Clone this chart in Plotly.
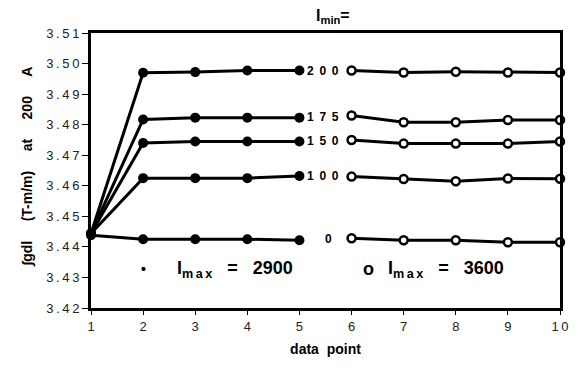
import plotly.graph_objects as go

x_2900 = [1, 2, 3, 4, 5]
x_3600 = [6, 7, 8, 9, 10]
imin_labels = ["2 0 0", "1 7 5", "1 5 0", "1 0 0", "0"]
y_2900 = {
    "200": [3.4444, 3.4970, 3.4972, 3.4977, 3.4977],
    "175": [3.4444, 3.4817, 3.4823, 3.4823, 3.4823],
    "150": [3.4444, 3.4740, 3.4745, 3.4745, 3.4745],
    "100": [3.4444, 3.4625, 3.4625, 3.4625, 3.4632],
    "0":   [3.4438, 3.4425, 3.4425, 3.4425, 3.4422],
}
y_3600 = {
    "200": [3.4977, 3.4971, 3.4973, 3.4971, 3.4971],
    "175": [3.4830, 3.4808, 3.4808, 3.4815, 3.4815],
    "150": [3.4750, 3.4738, 3.4738, 3.4738, 3.4745],
    "100": [3.4630, 3.4622, 3.4615, 3.4624, 3.4623],
    "0":   [3.4428, 3.4422, 3.4422, 3.4415, 3.4415],
}
y_ticks = [3.42, 3.43, 3.44, 3.45, 3.46, 3.47, 3.48, 3.49, 3.50, 3.51]
x_ticks = list(range(1, 11))

FONT = "Liberation Sans, Arial, sans-serif"
th = "\u2009"
nb = "\u00a0"

fig = go.Figure()
for k in y_2900:
    fig.add_trace(go.Scatter(
        x=x_2900, y=y_2900[k], mode="lines+markers", cliponaxis=False,
        line=dict(color="black", width=3),
        marker=dict(symbol="circle", size=10, color="black"),
        showlegend=False))
for k in y_3600:
    fig.add_trace(go.Scatter(
        x=x_3600, y=y_3600[k], mode="lines+markers", cliponaxis=False,
        line=dict(color="black", width=3),
        marker=dict(symbol="circle", size=8, color="white",
                    line=dict(color="black", width=2.5)),
        showlegend=False))

annotations = []
for lab, k in zip(imin_labels, y_2900):
    yv = (y_2900[k][-1] + y_3600[k][0]) / 2
    annotations.append(dict(x=5.45 if lab != "0" else 5.55, y=yv, xref="x", yref="y",
                            text="<b>" + lab.replace(" ", nb + th) + "</b>",
                            showarrow=False, font=dict(family=FONT, size=12, color="black")))

sub = "<sub>m" + th + "a" + th + "x</sub>"
annotations += [
    dict(x=(337 - 91) / (567 - 91), y=1.1, xref="paper", yref="paper", showarrow=False,
         text="<b>I<sub>min</sub>=</b>", font=dict(family=FONT, size=16, color="black")),
    dict(x=2.0, y=3.4327, xref="x", yref="y", showarrow=False,
         text="<b>•</b>", font=dict(family=FONT, size=14, color="black")),
    dict(x=2.62, y=3.4327, xref="x", yref="y", showarrow=False, xanchor="left",
         text="<b>I" + sub + nb * 3 + "=" + nb * 3 + "2900</b>",
         font=dict(family=FONT, size=18, color="black")),
    dict(x=6.33, y=3.4327, xref="x", yref="y", showarrow=False,
         text="<b>o</b>", font=dict(family=FONT, size=18, color="black")),
    dict(x=6.66, y=3.4327, xref="x", yref="y", showarrow=False, xanchor="left",
         text="<b>I" + sub + nb * 3 + "=" + nb * 3 + "3600</b>",
         font=dict(family=FONT, size=18, color="black")),
    dict(x=(15 - 91) / (567 - 91), y=1 - (167 - 33) / 275, xref="paper", yref="paper",
         showarrow=False, textangle=-90,
         text="<b>∫gdl" + nb * 5 + "(T-m/m)" + nb * 5 + "at" + nb * 5 + "200" + nb * 5 + "A</b>",
         font=dict(family=FONT, size=14, color="black")),
]

fig.update_layout(
    width=581, height=370,
    margin=dict(l=91, r=14, t=33, b=62),
    paper_bgcolor="white", plot_bgcolor="white",
    font=dict(family=FONT, size=13, color="black"),
    annotations=annotations,
    xaxis=dict(range=[1, 10], tickvals=x_ticks,
               ticktext=[th.join(str(v)) for v in x_ticks],
               ticks="outside", ticklen=4, tickwidth=1, tickcolor="black",
               showline=True, linecolor="black", linewidth=3, mirror=True,
               showgrid=False, zeroline=False,
               tickfont=dict(family=FONT, size=13, color="#222"),
               title=dict(text="<b>data" + nb * 2 + "point</b>",
                          font=dict(family=FONT, size=14, color="black"), standoff=12)),
    yaxis=dict(range=[3.42, 3.51], tickvals=y_ticks,
               ticktext=[th.join(f"{v:.2f}") for v in y_ticks],
               ticks="outside", ticklen=6, tickwidth=1, tickcolor="black",
               showline=True, linecolor="black", linewidth=3, mirror=True,
               showgrid=False, zeroline=False,
               tickfont=dict(family=FONT, size=13, color="#222")),
)

fig.write_html("out.html")
